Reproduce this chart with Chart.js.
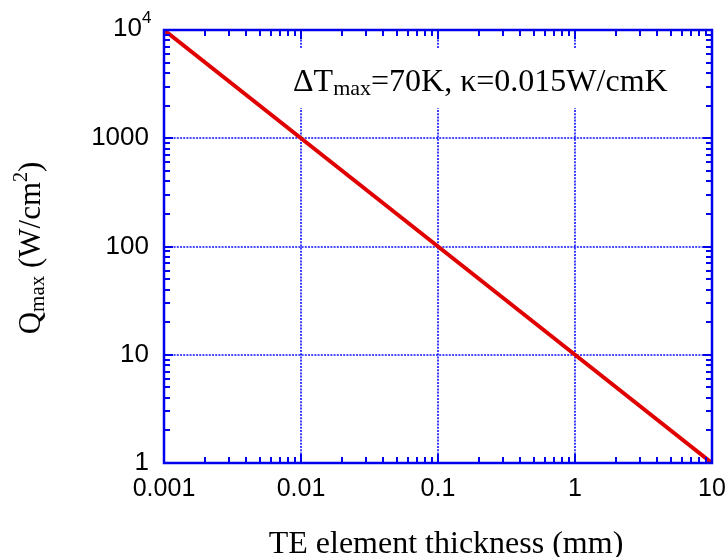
<!DOCTYPE html>
<html>
<head>
<meta charset="utf-8">
<script src="https://cdn.jsdelivr.net/npm/chart.js@4/dist/chart.umd.min.js"></script>
<style>
  html, body { margin: 0; padding: 0; background: #fff; }
  canvas { display: block; }
</style>
</head>
<body>
<canvas id="qmaxChart" width="728" height="557"></canvas>
<script>
// Qmax against TE element thickness, log-log
const thickness = [0.001, 0.01, 0.1, 1, 10];
const qmax = [10000, 1000, 100, 10, 1];

const xTicks = [0.001, 0.01, 0.1, 1, 10];
const xTickLabels = ["0.001", "0.01", "0.1", "1", "10"];
const yTicks = [1, 10, 100, 1000, 10000];
const yTickLabels = ["1", "10", "100", "1000", "10^4"];

const AXIS_BLUE = "#0000ee";
const GRID_BLUE = "#1010ff";
const SANS = "'Liberation Sans', Arial, sans-serif";
const SERIF = "'Liberation Serif', 'Times New Roman', serif";

// draws a list of text runs side by side; each run has its own font and vertical offset
function textRuns(ctx, x, y, runs, align) {
    let total = 0;
    runs.forEach(r => { ctx.font = r.font; total += ctx.measureText(r.t).width; });
    let cx = align === "center" ? x - total / 2 : (align === "right" ? x - total : x);
    ctx.textAlign = "left";
    ctx.textBaseline = "alphabetic";
    runs.forEach(r => {
        ctx.font = r.font;
        ctx.fillText(r.t, cx, y + (r.dy || 0));
        cx += ctx.measureText(r.t).width;
    });
}

function minorValues(ticks) {
    const out = [];
    for (let i = 0; i < ticks.length - 1; i++) {
        for (let m = 2; m <= 9; m++) out.push(ticks[i] * m);
    }
    return out;
}

const framePlugin = {
    id: "framePlugin",
    beforeDatasetsDraw(chart) {
        const { ctx, chartArea: a, scales: { x, y } } = chart;
        ctx.save();
        // dotted grid at the inner decades
        ctx.strokeStyle = GRID_BLUE;
        ctx.lineWidth = 1.6;
        ctx.setLineDash([2, 1.2]);
        ctx.beginPath();
        xTicks.slice(1, -1).forEach(v => {
            const px = Math.round(x.getPixelForValue(v));
            ctx.moveTo(px, a.top);
            ctx.lineTo(px, a.bottom);
        });
        yTicks.slice(1, -1).forEach(v => {
            const py = Math.round(y.getPixelForValue(v));
            ctx.moveTo(a.left, py);
            ctx.lineTo(a.right, py);
        });
        ctx.stroke();
        ctx.setLineDash([]);

        // parameter note with a white backing that hides the grid behind it
        const nx = a.left + 129, ny = a.top + 61;
        ctx.fillStyle = "#fff";
        ctx.fillRect(nx - 10, a.top + 18, 414, 60);
        ctx.fillStyle = "#000";
        textRuns(ctx, nx, ny, [
            { t: "\u0394T", font: "32px " + SERIF },
            { t: "max", font: "22px " + SERIF, dy: 4 },
            { t: "=70K, \u03ba=0.015W/cmK", font: "32px " + SERIF }
        ], "left");
        ctx.restore();
    },
    afterDatasetsDraw(chart) {
        const { ctx, chartArea: a, scales: { x, y } } = chart;
        ctx.save();
        ctx.setLineDash([]);
        ctx.strokeStyle = AXIS_BLUE;
        ctx.lineWidth = 2;
        ctx.lineCap = "butt";

        // inward ticks on all four sides
        const seg = (x1, y1, x2, y2) => {
            ctx.beginPath();
            ctx.moveTo(x1, y1);
            ctx.lineTo(x2, y2);
            ctx.stroke();
        };
        const xt = (v, len) => {
            const px = Math.round(x.getPixelForValue(v));
            seg(px, a.bottom, px, a.bottom - len);
            seg(px, a.top, px, a.top + len);
        };
        const yt = (v, len) => {
            const py = Math.round(y.getPixelForValue(v));
            seg(a.left, py, a.left + len, py);
            seg(a.right, py, a.right - len, py);
        };
        xTicks.forEach(v => xt(v, 9));
        minorValues(xTicks).forEach(v => xt(v, 6));
        yTicks.forEach(v => yt(v, 9));
        minorValues(yTicks).forEach(v => yt(v, 6));

        // frame
        ctx.lineWidth = 2.5;
        ctx.strokeRect(a.left, a.top, a.right - a.left, a.bottom - a.top);

        // tick labels
        ctx.fillStyle = "#000";
        ctx.textBaseline = "alphabetic";
        ctx.textAlign = "center";
        ctx.font = "25px " + SANS;
        xTicks.forEach((v, i) => {
            ctx.fillText(xTickLabels[i], x.getPixelForValue(v), a.bottom + 33);
        });
        yTicks.forEach((v, i) => {
            const py = y.getPixelForValue(v) + 7;
            const lbl = yTickLabels[i];
            ctx.textAlign = "right";
            if (lbl.includes("^")) {
                const [base, exp] = lbl.split("^");
                ctx.font = "26px " + SANS;
                ctx.fillText(base, a.left - 22, py - 1);
                ctx.font = "17px " + SANS;
                ctx.textAlign = "left";
                ctx.fillText(exp, a.left - 22, py - 14);
            } else {
                ctx.font = "26px " + SANS;
                ctx.fillText(lbl, a.left - 15, py);
            }
        });

        // axis titles
        textRuns(ctx, 446, 553, [
            { t: "TE element thickness (mm)", font: "32px " + SERIF }
        ], "center");

        ctx.translate(40, 248);
        ctx.rotate(-Math.PI / 2);
        textRuns(ctx, 0, 0, [
            { t: "Q", font: "31px " + SERIF },
            { t: "max", font: "21px " + SERIF, dy: 4 },
            { t: " (W/cm", font: "31px " + SERIF },
            { t: "2", font: "20px " + SERIF, dy: -13 },
            { t: ")", font: "31px " + SERIF }
        ], "center");
        ctx.restore();
    }
};

new Chart(document.getElementById("qmaxChart").getContext("2d"), {
    type: "line",
    data: {
        datasets: [{
            data: thickness.map((t, i) => ({ x: t, y: qmax[i] })),
            borderColor: "#e00000",
            borderWidth: 4,
            pointRadius: 0,
            fill: false,
            tension: 0
        }]
    },
    options: {
        responsive: false,
        animation: false,
        devicePixelRatio: 1,
        layout: { padding: { left: 164, top: 30, right: 16, bottom: 94 } },
        plugins: {
            legend: { display: false },
            tooltip: { enabled: false }
        },
        scales: {
            x: { type: "logarithmic", min: 0.001, max: 10, display: false },
            y: { type: "logarithmic", min: 1, max: 10000, display: false }
        }
    },
    plugins: [framePlugin]
});
</script>
</body>
</html>
